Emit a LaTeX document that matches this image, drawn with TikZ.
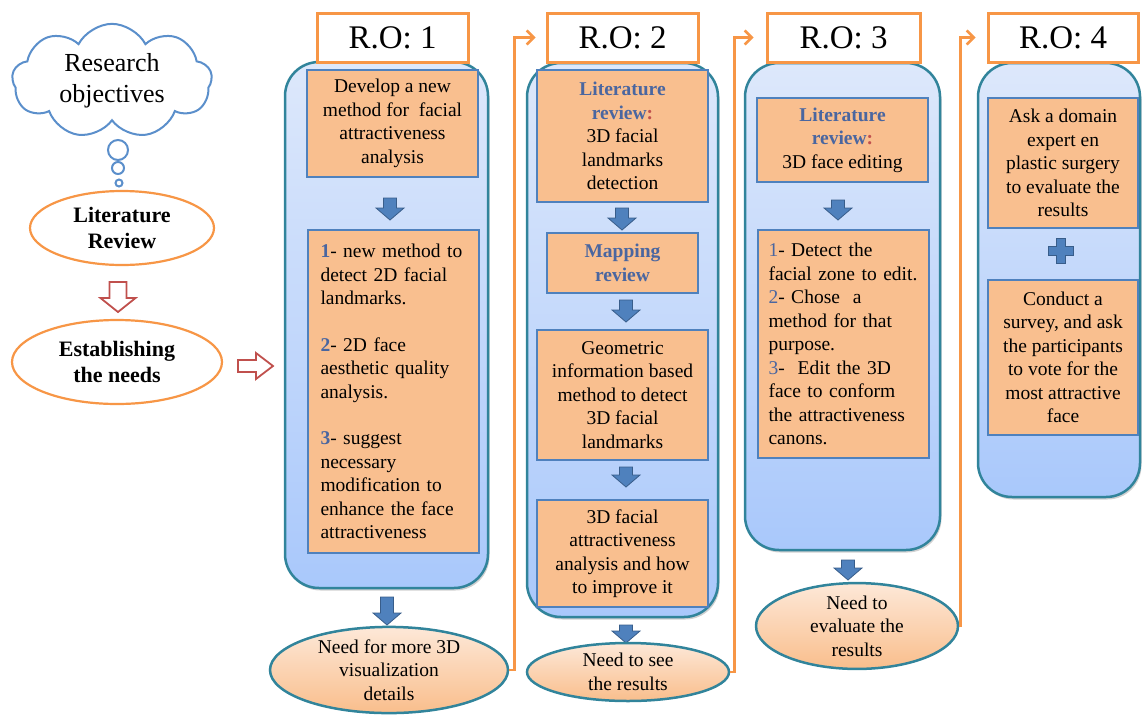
\documentclass[tikz,border=0pt]{standalone}
\usepackage{fontspec}
\IfFontExistsTF{Liberation Serif}{\setmainfont{Liberation Serif}}{}
\usetikzlibrary{shapes.geometric,shapes.symbols,arrows.meta,shadows}

\definecolor{roOrange}{HTML}{F79646}
\definecolor{panelTeal}{HTML}{31849B}
\definecolor{panelTop}{HTML}{DDE8FB}
\definecolor{panelBot}{HTML}{A9C8FB}
\definecolor{stepFill}{HTML}{F9BF8F}
\definecolor{stepEdge}{HTML}{4F81BD}
\definecolor{labelBlue}{HTML}{4A66A0}
\definecolor{colonRed}{HTML}{C0504D}
\definecolor{arrowBlue}{HTML}{4F81BD}
\definecolor{arrowEdge}{HTML}{385D8A}
\definecolor{hollowRed}{HTML}{C0504D}
\definecolor{cloudBlue}{HTML}{5B8FCB}
\definecolor{needTop}{HTML}{FDE8D8}
\definecolor{needBot}{HTML}{F9BE8C}

\newcommand{\lbl}[1]{\textcolor{labelBlue}{\bfseries #1}}
\newcommand{\colonmark}{\textcolor{colonRed}{\bfseries :}}

\tikzset{
  body/.style={font=\fontsize{19.5}{23.5}\selectfont},
  panel/.style={draw=panelTeal, line width=2.5pt, rounded corners=34pt,
    top color=panelTop, bottom color=panelBot,
    drop shadow={shadow xshift=1.5pt, shadow yshift=-2.5pt, opacity=0.3, fill=black!60},
    inner sep=0pt},
  titlebox/.style={draw=roOrange, fill=white, line width=3pt, inner sep=0pt,
    minimum height=49pt, font=\fontsize{33}{36}\selectfont},
  stepbox/.style={body, draw=stepEdge, fill=stepFill, line width=2.2pt, inner sep=0pt},
  needoval/.style={body, ellipse, draw=panelTeal, line width=2.5pt,
    top color=needTop, bottom color=needBot, inner sep=0pt, align=center},
  leftoval/.style={ellipse, draw=roOrange, fill=white, line width=2.2pt, inner sep=0pt,
    align=center, font=\fontsize{22}{26}\selectfont\bfseries},
  bubble/.style={circle, draw=cloudBlue, fill=white, line width=2pt, inner sep=0pt},
  conn/.style={draw=roOrange, line width=2.5pt,
    -{Straight Barb[length=7pt,width=14pt,line width=2.5pt]}},
  pics/bdown/.style={code={
    \filldraw[fill=arrowBlue, draw=arrowEdge, line width=0.8pt]
      (-6.5,0) -- (6.5,0) -- (6.5,#1-12) -- (14,#1-12) -- (0,#1)
      -- (-14,#1-12) -- (-6.5,#1-12) -- cycle;}},
  pics/hdown/.style={code={
    \filldraw[fill=white, draw=hollowRed, line width=1.8pt]
      (-8.5,0) -- (8.5,0) -- (8.5,16) -- (17.5,16) -- (0,30)
      -- (-17.5,16) -- (-8.5,16) -- cycle;}},
  pics/hright/.style={code={
    \filldraw[fill=white, draw=hollowRed, line width=1.8pt]
      (0,-6) -- (18,-6) -- (18,-13) -- (35,0) -- (18,13)
      -- (18,6) -- (0,6) -- cycle;}},
  pics/plusmark/.style={code={
    \filldraw[fill=arrowBlue, draw=arrowEdge, line width=0.8pt]
      (-4.5,-12.5) -- (4.5,-12.5) -- (4.5,-4.5) -- (12.5,-4.5) -- (12.5,4.5)
      -- (4.5,4.5) -- (4.5,12.5) -- (-4.5,12.5) -- (-4.5,4.5) -- (-12.5,4.5)
      -- (-12.5,-4.5) -- (-4.5,-4.5) -- cycle;}},
}

\begin{document}
\begin{tikzpicture}[x=1pt,y=-1pt]
\useasboundingbox (0,0) rectangle (1142,715);

% ---------- left column: research objectives ----------
\node[cloud, cloud puffs=9, cloud puff arc=125, cloud ignores aspect,
      draw=cloudBlue, line width=2pt, fill=white, minimum width=200pt, minimum height=104pt,
      align=center, font=\fontsize{26}{31}\selectfont] (resobj) at (112,81)
      {Research\\objectives};
\node[bubble, minimum size=20pt] (bub1) at (118,150) {};
\node[bubble, minimum size=12pt] (bub2) at (118,168) {};
\node[bubble, minimum size=7pt] (bub3) at (119,183) {};

\node[leftoval, minimum width=184pt, minimum height=74pt] (lit) at (122,228)
      {Literature\\Review};
\pic (litarrow) at (118,282) {hdown};
\node[leftoval, minimum width=210pt, minimum height=84pt] (est) at (117,362)
      {Establishing\\the needs};
\pic (estarrow) at (238,366) {hright};

% ---------- panels ----------
\node[panel, minimum width=203pt, minimum height=526pt] (p1) at (386.5,325) {};
\node[panel, minimum width=191pt, minimum height=554pt] (p2) at (622.5,340) {};
\node[panel, minimum width=195pt, minimum height=487pt] (p3) at (842.5,306.5) {};
\node[panel, minimum width=162pt, minimum height=434pt] (p4) at (1059,280) {};

% ---------- titles ----------
\node[titlebox, minimum width=151pt] (t1) at (392.5,37.5) {R.O: 1};
\node[titlebox, minimum width=151pt] (t2) at (622.5,37.5) {R.O: 2};
\node[titlebox, minimum width=153pt] (t3) at (843.5,37.5) {R.O: 3};
\node[titlebox, minimum width=150pt] (t4) at (1063,37.5) {R.O: 4};

% ---------- R.O: 1 ----------
\node[stepbox, minimum width=171pt, minimum height=107pt, align=center] (a1) at (392.5,123.5)
  {Develop a new\\method for~~facial\\attractiveness\\analysis};
\pic (a1arrow) at (390,198) {bdown=22};
\node[stepbox, minimum width=171pt, minimum height=323pt, text width=146pt, align=left] (a2) at (393.5,391.5)
  {\lbl{1}- new method to\\detect 2D facial\\landmarks.\\[23pt]
   \lbl{2}- 2D face\\aesthetic quality\\analysis.\\[23pt]
   \lbl{3}- suggest\\necessary\\modification to\\enhance the face\\attractiveness};
\pic (p1arrow) at (387,597) {bdown=28};
\node[needoval, minimum width=238pt, minimum height=86pt] (n1) at (389,670)
  {Need for more 3D\\visualization\\details};

% ---------- R.O: 2 ----------
\node[stepbox, minimum width=171pt, minimum height=132pt, align=center] (b1) at (622.5,136)
  {\lbl{Literature}\\\lbl{review}\colonmark\\3D facial\\landmarks\\detection};
\pic (b1arrow) at (622,208) {bdown=22};
\node[stepbox, minimum width=151pt, minimum height=60pt, align=center] (b2) at (622.5,263)
  {\lbl{Mapping}\\\lbl{review}};
\pic (b2arrow) at (626,300) {bdown=22};
\node[stepbox, minimum width=171pt, minimum height=130pt, align=center] (b3) at (622.5,395)
  {Geometric\\information based\\method to detect\\3D facial\\landmarks};
\pic (b3arrow) at (626,467) {bdown=20};
\node[stepbox, minimum width=171pt, minimum height=107pt, align=center] (b4) at (622.5,553.5)
  {3D facial\\attractiveness\\analysis and how\\to improve it};
\pic (p2arrow) at (626,625) {bdown=18};
\node[needoval, minimum width=202pt, minimum height=58pt] (n2) at (628,672)
  {Need to see\\the results};

% ---------- R.O: 3 ----------
\node[stepbox, minimum width=171pt, minimum height=84pt, align=center] (c1) at (842.5,140)
  {\lbl{Literature}\\\lbl{review}\colonmark\\3D face editing};
\pic (c1arrow) at (838,200) {bdown=20};
\node[stepbox, minimum width=171pt, minimum height=228pt, text width=150pt, align=left] (c2) at (843.5,344)
  {\textcolor{labelBlue}{1}- Detect the\\facial zone to edit.\\
   \textcolor{labelBlue}{2}- Chose~~a\\method for that\\purpose.\\
   \textcolor{labelBlue}{3}-~~Edit the 3D\\face to conform\\the attractiveness\\canons.};
\pic (p3arrow) at (848,560) {bdown=20};
\node[needoval, minimum width=202pt, minimum height=76pt] (n3) at (857,626)
  {Need to\\evaluate the\\results};

% ---------- R.O: 4 ----------
\node[stepbox, minimum width=150pt, minimum height=130pt, align=center] (d1) at (1063,163)
  {Ask a domain\\expert en\\plastic surgery\\to evaluate the\\results};
\pic (plus) at (1061,251) {plusmark};
\node[stepbox, minimum width=150pt, minimum height=155pt, align=center] (d2) at (1063,357.5)
  {Conduct a\\survey, and ask\\the participants\\to vote for the\\most attractive\\face};

% ---------- links between objectives ----------
\draw[conn, shorten >=10pt] (n1.east) -- ++(5,0) |- (t2.west);
\draw[conn, shorten >=12pt] (n2.east) -- ++(4,0) |- (t3.west);
\draw[conn, shorten >=11pt] (n3.east) -- ++(1,0) |- (t4.west);

\end{tikzpicture}
\end{document}
